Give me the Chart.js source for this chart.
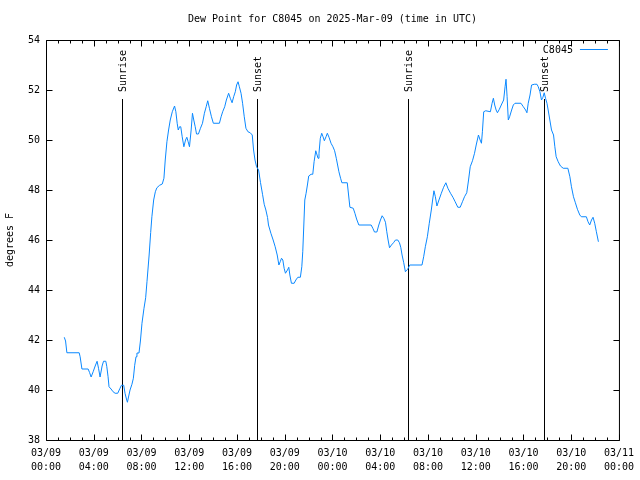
<!DOCTYPE html>
<html>
<head>
<meta charset="utf-8">
<title>Dew Point for C8045</title>
<script src="https://cdn.jsdelivr.net/npm/chart.js@4"></script>
<style>
  html, body { margin: 0; padding: 0; background: #fff; }
  #wrap { width: 640px; height: 480px; }
</style>
</head>
<body>
<div id="wrap"><canvas id="dewChart" width="640" height="480"></canvas></div>
<script>
// Hours since 03/09 00:00 UTC
const hours = [
  1.53, 1.64, 1.75, 2.78, 2.86, 3.01, 3.53, 3.65, 3.78, 3.95, 4.12, 4.28, 4.40, 4.53, 4.70, 4.82,
  5.01, 5.09, 5.20, 5.28, 5.45, 5.62, 5.79, 6.01, 6.18, 6.32, 6.51, 6.62, 6.74, 6.82, 6.93, 7.04,
  7.20, 7.32, 7.43, 7.54, 7.62, 7.79, 7.91, 8.04, 8.21, 8.35, 8.46, 8.64, 8.77, 8.87, 9.02, 9.16,
  9.29, 9.52, 9.74, 9.88, 9.99, 10.13, 10.27, 10.41, 10.58, 10.77, 10.88, 10.99, 11.08, 11.19, 11.29, 11.41,
  11.55, 11.69, 11.80, 11.91, 12.02, 12.16, 12.27, 12.38, 12.50, 12.61, 12.77, 12.94, 13.11, 13.27, 13.42, 13.55,
  13.69, 13.86, 14.02, 14.53, 14.67, 14.80, 14.97, 15.11, 15.30, 15.44, 15.59, 15.72, 15.86, 15.97, 16.09, 16.20,
  16.34, 16.47, 16.61, 16.75, 16.92, 17.11, 17.28, 17.39, 17.51, 17.64, 17.81, 17.97, 18.14, 18.28, 18.42, 18.56,
  18.64, 18.84, 19.03, 19.20, 19.37, 19.51, 19.62, 19.73, 19.84, 19.95, 20.06, 20.23, 20.34, 20.43, 20.56, 20.79,
  20.93, 21.10, 21.31, 21.43, 21.51, 21.60, 21.68, 21.79, 21.90, 22.01, 22.21, 22.35, 22.46, 22.60, 22.71, 22.79,
  22.87, 22.98, 23.10, 23.21, 23.32, 23.46, 23.57, 23.71, 23.88, 24.04, 24.18, 24.32, 24.43, 24.54, 24.68, 24.79,
  25.24, 25.35, 25.46, 25.74, 25.88, 26.02, 26.21, 27.24, 27.38, 27.52, 27.72, 27.88, 28.02, 28.16, 28.30, 28.44,
  28.55, 28.66, 28.78, 28.94, 29.11, 29.28, 29.47, 29.61, 29.72, 29.83, 29.97, 30.11, 30.22, 30.33, 30.47, 31.50,
  31.64, 31.78, 31.95, 32.11, 32.28, 32.39, 32.50, 32.62, 32.75, 32.92, 33.12, 33.31, 33.50, 33.67, 33.89, 34.09,
  34.28, 34.50, 34.70, 34.89, 35.06, 35.25, 35.40, 35.54, 35.73, 35.90, 36.04, 36.23, 36.37, 36.48, 36.56, 36.67,
  36.84, 37.23, 37.37, 37.48, 37.59, 37.71, 37.82, 37.98, 38.18, 38.34, 38.46, 38.54, 38.63, 38.73, 38.84, 39.01,
  39.15, 39.29, 39.79, 39.99, 40.18, 40.29, 40.40, 40.55, 40.68, 40.91, 41.13, 41.24, 41.38, 41.51, 41.63, 41.74,
  41.85, 41.97, 42.07, 42.21, 42.35, 42.52, 42.63, 42.74, 42.91, 43.10, 43.33, 43.72, 43.89, 44.02, 44.19, 44.35,
  44.52, 44.72, 44.85, 45.27, 45.41, 45.55, 45.70, 45.83, 45.97, 46.11, 46.28
];

// Dew point, degrees F
const dewPoint = [
  42.11, 41.96, 41.49, 41.49, 41.33, 40.84, 40.84, 40.70, 40.52, 40.73, 40.96, 41.15, 40.87, 40.52, 40.96, 41.15,
  41.15, 40.95, 40.53, 40.13, 40.04, 39.93, 39.87, 39.87, 40.05, 40.19, 40.19, 39.87, 39.64, 39.51, 39.76, 40.00,
  40.23, 40.47, 40.99, 41.33, 41.48, 41.48, 41.96, 42.67, 43.27, 43.69, 44.33, 45.40, 46.30, 46.93, 47.60, 47.93,
  48.09, 48.19, 48.24, 48.47, 49.20, 49.93, 50.40, 50.80, 51.13, 51.36, 51.13, 50.67, 50.40, 50.53, 50.53, 50.13,
  49.73, 50.00, 50.11, 49.93, 49.73, 50.40, 51.07, 50.80, 50.53, 50.24, 50.24, 50.47, 50.67, 51.07, 51.33, 51.57,
  51.27, 50.93, 50.67, 50.67, 50.93, 51.13, 51.33, 51.60, 51.87, 51.67, 51.49, 51.73, 51.93, 52.20, 52.33, 52.13,
  51.87, 51.47, 50.93, 50.47, 50.33, 50.29, 50.20, 49.60, 49.20, 48.93, 48.80, 48.30, 47.83, 47.43, 47.20, 46.90,
  46.60, 46.27, 46.00, 45.73, 45.40, 45.00, 45.13, 45.27, 45.20, 44.87, 44.67, 44.80, 44.91, 44.60, 44.27, 44.27,
  44.40, 44.51, 44.51, 44.93, 45.53, 46.60, 47.60, 47.87, 48.20, 48.56, 48.63, 48.63, 49.13, 49.57, 49.40, 49.27,
  49.47, 50.07, 50.27, 50.13, 49.97, 50.13, 50.27, 50.11, 49.87, 49.73, 49.57, 49.27, 49.00, 48.73, 48.47, 48.29,
  48.29, 47.80, 47.31, 47.27, 47.07, 46.84, 46.60, 46.60, 46.47, 46.32, 46.32, 46.60, 46.80, 46.97, 46.87, 46.71,
  46.33, 46.00, 45.69, 45.80, 45.89, 46.00, 46.00, 45.89, 45.71, 45.40, 45.09, 44.73, 44.80, 44.85, 45.00, 45.00,
  45.33, 45.73, 46.13, 46.67, 47.20, 47.60, 47.97, 47.73, 47.36, 47.60, 47.87, 48.11, 48.29, 48.07, 47.87, 47.71,
  47.53, 47.31, 47.31, 47.53, 47.73, 47.89, 48.40, 48.93, 49.17, 49.47, 49.80, 50.20, 50.00, 49.87, 50.33, 51.13,
  51.17, 51.13, 51.47, 51.67, 51.40, 51.20, 51.09, 51.23, 51.44, 51.60, 52.13, 52.43, 51.73, 50.80, 50.93, 51.20,
  51.40, 51.47, 51.47, 51.33, 51.20, 51.09, 51.47, 51.80, 52.20, 52.23, 52.23, 52.13, 51.93, 51.60, 51.71, 51.89,
  51.67, 51.47, 51.20, 50.80, 50.40, 50.20, 49.73, 49.33, 49.13, 48.96, 48.87, 48.87, 48.53, 48.13, 47.73, 47.49,
  47.23, 47.00, 46.93, 46.93, 46.73, 46.60, 46.80, 46.91, 46.67, 46.33, 45.93
];

// Sunrise / sunset markers (hours since 03/09 00:00)
const eventHours = [6.37, 17.70, 30.33, 41.74];
const eventLabels = ["Sunrise", "Sunset", "Sunrise", "Sunset"];

// x tick labels every 4 hours
const tickDates = ["03/09", "03/09", "03/09", "03/09", "03/09", "03/09", "03/10", "03/10", "03/10", "03/10", "03/10", "03/10", "03/11"];
const tickTimes = ["00:00", "04:00", "08:00", "12:00", "16:00", "20:00", "00:00", "04:00", "08:00", "12:00", "16:00", "20:00", "00:00"];

const titleText = "Dew Point for C8045 on 2025-Mar-09 (time in UTC)";
const stationName = "C8045";
const lineColor = "#0a88ff";
const monoFont = "'DejaVu Sans Mono', 'Liberation Mono', monospace";

const points = hours.map((h, i) => ({ x: h, y: dewPoint[i] }));

// gnuplot-like frame, inward ticks, title, legend and sun markers
const gnuplotLook = {
  id: "gnuplotLook",
  beforeDatasetsDraw(chart) {
    const ctx = chart.ctx;
    const area = chart.chartArea;
    const xs = chart.scales.x;
    ctx.save();
    ctx.strokeStyle = "#000";
    ctx.lineWidth = 1;
    ctx.fillStyle = "#000";
    ctx.font = "10px " + monoFont;
    eventHours.forEach((h, i) => {
      const px = Math.round(xs.getPixelForValue(h)) + 0.5;
      ctx.beginPath();
      ctx.moveTo(px, area.top + 59);
      ctx.lineTo(px, area.bottom);
      ctx.stroke();
      // label reads bottom-to-top, ending just above the line
      ctx.save();
      ctx.translate(px + 1, area.top + 52);
      ctx.rotate(-Math.PI / 2);
      ctx.textAlign = "left";
      ctx.textBaseline = "middle";
      ctx.fillText(eventLabels[i], 0, 0);
      ctx.restore();
    });
    ctx.restore();
  },
  afterDraw(chart) {
    const ctx = chart.ctx;
    const area = chart.chartArea;
    const xs = chart.scales.x;
    const ys = chart.scales.y;
    const l = area.left + 0.5, r = area.right + 0.5, t = area.top + 0.5, b = area.bottom + 0.5;
    ctx.save();
    ctx.strokeStyle = "#000";
    ctx.lineWidth = 1;
    ctx.beginPath();
    ctx.rect(l, t, r - l, b - t);
    // x ticks every hour, major every 4
    for (let h = 0; h <= 48; h++) {
      const px = Math.round(xs.getPixelForValue(h)) + 0.5;
      const len = h % 4 === 0 ? 6 : 3;
      ctx.moveTo(px, b); ctx.lineTo(px, b - len);
      ctx.moveTo(px, t); ctx.lineTo(px, t + len);
    }
    for (let v = 38; v <= 54; v += 2) {
      const py = Math.round(ys.getPixelForValue(v)) + 0.5;
      ctx.moveTo(l, py); ctx.lineTo(l + 6, py);
      ctx.moveTo(r, py); ctx.lineTo(r - 6, py);
    }
    ctx.stroke();

    // title
    ctx.fillStyle = "#000";
    ctx.font = "10px " + monoFont;
    ctx.textAlign = "center";
    ctx.textBaseline = "middle";
    ctx.fillText(titleText, (area.left + area.right) / 2, 19);

    // legend
    ctx.textAlign = "right";
    ctx.fillText(stationName, area.right - 46, area.top + 10);
    ctx.strokeStyle = lineColor;
    ctx.beginPath();
    ctx.moveTo(area.right - 39, area.top + 9.5);
    ctx.lineTo(area.right - 11, area.top + 9.5);
    ctx.stroke();
    ctx.restore();
  }
};

new Chart(document.getElementById("dewChart").getContext("2d"), {
  type: "line",
  data: {
    datasets: [
      {
        label: stationName,
        data: points,
        borderColor: lineColor,
        borderWidth: 1,
        pointRadius: 0,
        tension: 0,
        fill: false,
      },
    ],
  },
  options: {
    responsive: false,
    animation: false,
    devicePixelRatio: 1,
    layout: { padding: { top: 40, right: 19, left: 0, bottom: 0 } },
    plugins: {
      legend: { display: false },
      title: { display: false },
      tooltip: { enabled: false },
    },
    scales: {
      x: {
        type: "linear",
        min: 0,
        max: 48,
        grid: { display: false, drawTicks: false },
        border: { display: false },
        ticks: {
          stepSize: 4,
          autoSkip: false,
          maxRotation: 0,
          padding: 6,
          color: "#000",
          font: { family: monoFont, size: 10, lineHeight: 1.4 },
          callback: (v) => {
            const i = Math.round(v / 4);
            return [tickDates[i], tickTimes[i]];
          },
        },
        afterFit: (scale) => { scale.height = 40; },
      },
      y: {
        min: 38,
        max: 54,
        grid: { display: false, drawTicks: false },
        border: { display: false },
        ticks: {
          stepSize: 2,
          padding: 6,
          color: "#000",
          font: { family: monoFont, size: 10 },
        },
        title: {
          display: true,
          text: "degrees F",
          color: "#000",
          font: { family: monoFont, size: 10 },
          padding: { top: 4, bottom: 0 },
        },
        afterFit: (scale) => { scale.width = 46; },
      },
    },
  },
  plugins: [gnuplotLook],
});
</script>
</body>
</html>
